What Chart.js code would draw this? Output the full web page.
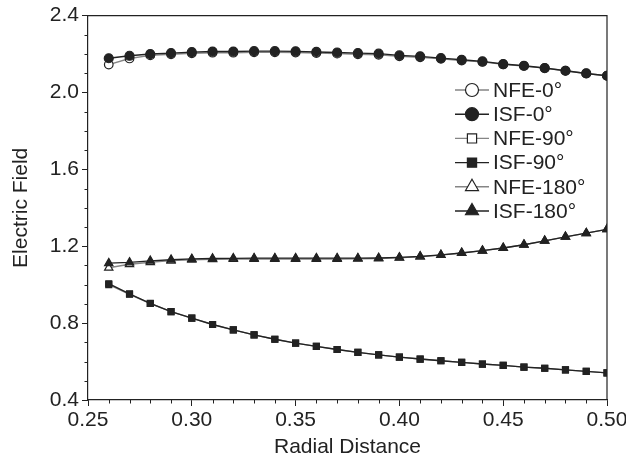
<!DOCTYPE html>
<html>
<head>
<meta charset="utf-8">
<script src="https://cdn.jsdelivr.net/npm/chart.js@4.4.1/dist/chart.umd.min.js"></script>
<style>
  html, body { margin: 0; padding: 0; background: #fff; }
  #wrap { width: 626px; height: 466px; }
</style>
</head>
<body>
<div id="wrap"><canvas id="chart"></canvas></div>
<script>
// radial positions (x) and field values
const radial = [0.26, 0.27, 0.28, 0.29, 0.30, 0.31, 0.32, 0.33, 0.34, 0.35, 0.36, 0.37, 0.38,
                0.39, 0.40, 0.41, 0.42, 0.43, 0.44, 0.45, 0.46, 0.47, 0.48, 0.49, 0.50];

const isf0 = [2.178, 2.191, 2.200, 2.205, 2.210, 2.213, 2.213, 2.215, 2.215, 2.214, 2.211, 2.208, 2.205,
              2.202, 2.193, 2.188, 2.179, 2.170, 2.162, 2.148, 2.139, 2.127, 2.113, 2.099, 2.087];
const nfe0 = [2.145, 2.177, 2.193, 2.199, 2.204, 2.207, 2.207, 2.209, 2.209, 2.208, 2.205, 2.202, 2.199,
              2.196, 2.188, 2.183, 2.175, 2.166, 2.159, 2.146, 2.138, 2.127, 2.113, 2.099, 2.087];

const isf90 = [1.005, 0.952, 0.903, 0.860, 0.826, 0.793, 0.765, 0.739, 0.716, 0.696, 0.679, 0.663, 0.648,
               0.635, 0.623, 0.613, 0.604, 0.596, 0.587, 0.580, 0.571, 0.565, 0.557, 0.549, 0.541];
const nfe90 = [1.000, 0.950, 0.902, 0.860, 0.826, 0.793, 0.765, 0.739, 0.716, 0.696, 0.679, 0.663, 0.648,
               0.635, 0.623, 0.613, 0.604, 0.596, 0.587, 0.580, 0.571, 0.565, 0.557, 0.549, 0.541];

const isf180 = [1.112, 1.116, 1.124, 1.130, 1.134, 1.136, 1.137, 1.138, 1.138, 1.138, 1.138, 1.138, 1.138,
                1.139, 1.142, 1.147, 1.155, 1.165, 1.177, 1.191, 1.208, 1.228, 1.249, 1.268, 1.288];
const nfe180 = [1.088, 1.106, 1.117, 1.125, 1.130, 1.132, 1.133, 1.134, 1.134, 1.134, 1.134, 1.134, 1.135,
                1.136, 1.140, 1.146, 1.154, 1.165, 1.177, 1.191, 1.208, 1.228, 1.249, 1.268, 1.288];

const xTicks = [0.25, 0.30, 0.35, 0.40, 0.45, 0.50];
const yTicks = [0.4, 0.8, 1.2, 1.6, 2.0, 2.4];

const ink = '#222';
const grayLine = '#858585';
const fam = '"Liberation Sans", Arial, sans-serif';

function pts(ys) {
    return radial.map((x, i) => ({ x: x, y: ys[i] }));
}

function series(label, ys, style, filled, radius, order) {
    return {
        label: label,
        data: pts(ys),
        borderColor: filled ? ink : grayLine,
        borderWidth: 1.4,
        pointStyle: style,
        pointRadius: radius,
        pointBorderWidth: 1.2,
        pointBorderColor: ink,
        pointBackgroundColor: filled ? ink : '#fff',
        tension: 0,
        order: order
    };
}

const datasets = [
    series('NFE-0°', nfe0, 'circle', false, 4.3, 2),
    series('ISF-0°', isf0, 'circle', true, 4.5, 1),
    series('NFE-90°', nfe90, 'rect', false, 4.2, 2),
    series('ISF-90°', isf90, 'rect', true, 4.2, 1),
    series('NFE-180°', nfe180, 'triangle', false, 4.8, 2),
    series('ISF-180°', isf180, 'triangle', true, 4.8, 1)
];

// frame, minor ticks and the in-plot legend
const extras = {
    id: 'extras',
    afterDraw(chart) {
        const ctx = chart.ctx;
        const a = chart.chartArea;
        const xs = chart.scales.x, ys = chart.scales.y;
        ctx.save();
        ctx.strokeStyle = ink;
        ctx.lineWidth = 1.2;
        ctx.beginPath();
        ctx.moveTo(a.left, a.top); ctx.lineTo(a.right, a.top); ctx.lineTo(a.right, a.bottom);
        ctx.stroke();

        ctx.lineWidth = 1;
        ctx.beginPath();
        for (let i = 0; i <= 25; i++) {
            if (i % 5 === 0) continue;
            const px = Math.round(xs.getPixelForValue(0.25 + i * 0.01)) + 0.5;
            ctx.moveTo(px, a.bottom); ctx.lineTo(px, a.bottom + 3.5);
        }
        for (let i = 0; i <= 20; i++) {
            if (i % 4 === 0) continue;
            const py = Math.round(ys.getPixelForValue(0.4 + i * 0.1)) + 0.5;
            ctx.moveTo(a.left, py); ctx.lineTo(a.left - 3.5, py);
        }
        ctx.stroke();

        // legend
        const lx = 472, ly0 = 90, dy = 24.2;
        ctx.font = '21px ' + fam;
        ctx.textBaseline = 'middle';
        chart.data.datasets.forEach((ds, i) => {
            const y = ly0 + i * dy;
            ctx.strokeStyle = ds.borderColor;
            ctx.lineWidth = 1.4;
            ctx.beginPath();
            ctx.moveTo(lx - 17, y); ctx.lineTo(lx + 17, y);
            ctx.stroke();
            ctx.strokeStyle = ink;
            ctx.fillStyle = ds.pointBackgroundColor;
            ctx.lineWidth = 1.2;
            const r = ds.pointStyle === 'circle' ? 6.5 : (ds.pointStyle === 'rect' ? 6.5 : 7.5);
            Chart.helpers.drawPoint(ctx, { pointStyle: ds.pointStyle, radius: r, rotation: 0, borderWidth: 1.2 }, lx, y);
            ctx.fillStyle = ink;
            ctx.fillText(ds.label, lx + 21, y + 1);
        });
        ctx.restore();
    }
};

new Chart(document.getElementById('chart'), {
    type: 'line',
    data: { datasets: datasets },
    options: {
        responsive: true,
        maintainAspectRatio: false,
        animation: false,
        layout: { padding: { top: 14, right: 0, left: 0, bottom: 0 } },
        plugins: { legend: { display: false }, tooltip: { enabled: false } },
        scales: {
            x: {
                type: 'linear',
                min: 0.25,
                max: 0.50,
                afterBuildTicks: s => { s.ticks = xTicks.map(v => ({ value: v })); },
                afterFit: s => { s.height = 66; s.paddingRight = 19; s.paddingLeft = 0; },
                ticks: {
                    color: ink,
                    padding: 2,
                    maxRotation: 0,
                    font: { size: 21, family: fam },
                    callback: v => v.toFixed(2)
                },
                grid: { drawOnChartArea: false, tickLength: 6, color: ink, lineWidth: 1 },
                border: { color: ink, width: 1.2 },
                title: {
                    display: true,
                    text: 'Radial Distance',
                    color: ink,
                    padding: { top: 4, bottom: 6 },
                    font: { size: 21, family: fam }
                }
            },
            y: {
                type: 'linear',
                min: 0.4,
                max: 2.4,
                afterBuildTicks: s => { s.ticks = yTicks.map(v => ({ value: v })); },
                afterFit: s => { s.width = 88; },
                ticks: {
                    color: ink,
                    padding: 3,
                    font: { size: 21, family: fam },
                    callback: v => v.toFixed(1)
                },
                grid: { drawOnChartArea: false, tickLength: 6, color: ink, lineWidth: 1 },
                border: { color: ink, width: 1.2 },
                title: {
                    display: true,
                    text: 'Electric Field',
                    color: ink,
                    padding: { top: 9, bottom: 4 },
                    font: { size: 21, family: fam }
                }
            }
        }
    },
    plugins: [extras]
});
</script>
</body>
</html>
